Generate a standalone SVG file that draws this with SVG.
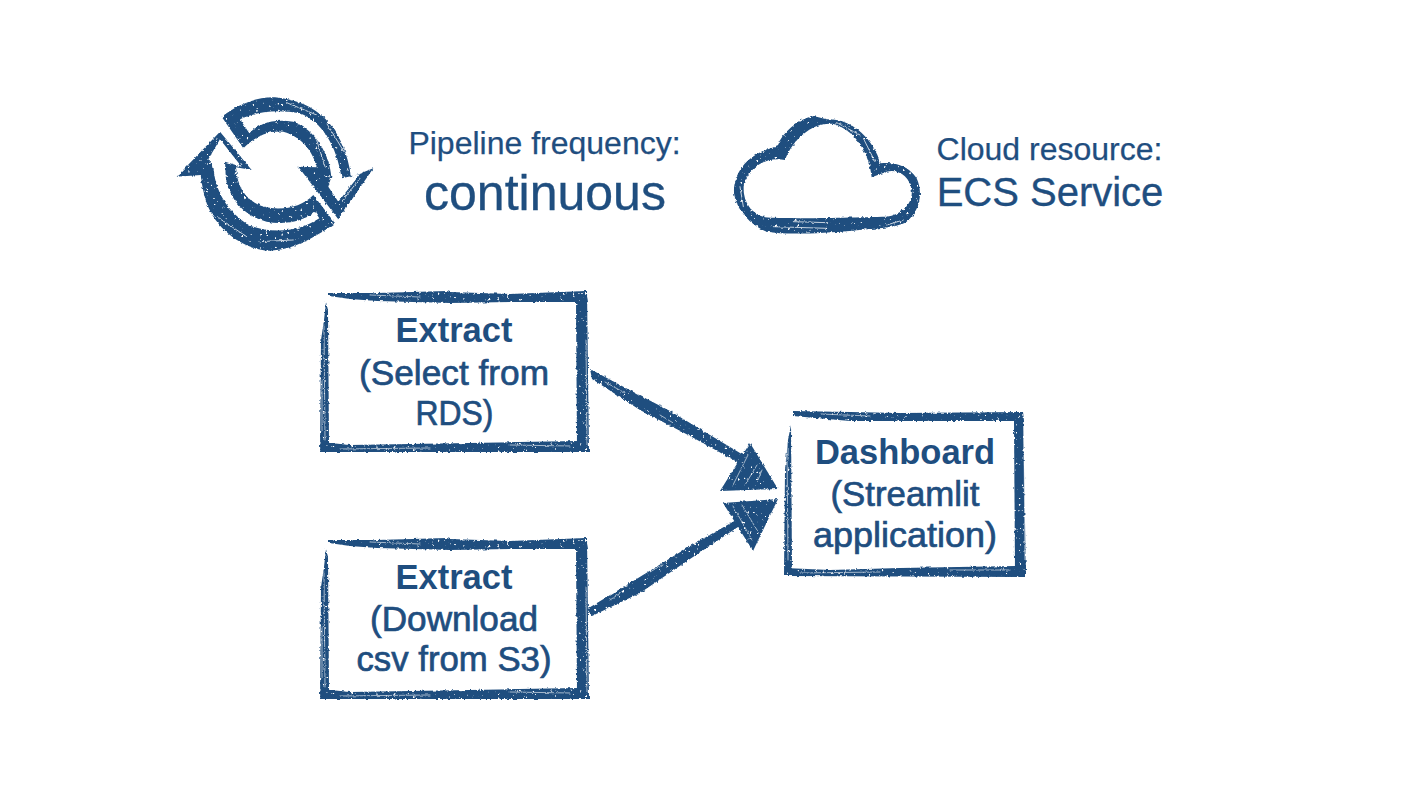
<svg xmlns="http://www.w3.org/2000/svg" width="1424" height="788" viewBox="0 0 1424 788">
<style>
text{font-family:"Liberation Sans",Arial,sans-serif;fill:#1f4e7f;text-anchor:middle}
.b{font-size:34.5px;font-weight:bold}
.m{font-size:35px;stroke:#1f4e7f;stroke-width:.7px}
.s{font-size:32px;stroke:#1f4e7f;stroke-width:.25px}
.l{stroke:#1f4e7f;stroke-width:.35px}
.ink{fill:#1f4e7f;stroke:none}
.sc{fill:none;stroke:#fff;stroke-linecap:round;stroke-width:.8;opacity:.75}
</style>
<defs>
<filter id="rough" x="-5%" y="-5%" width="110%" height="110%" color-interpolation-filters="sRGB">
<feTurbulence type="fractalNoise" baseFrequency=".32" numOctaves="3" seed="4" result="n"/>
<feDisplacementMap in="SourceGraphic" in2="n" scale="3" xChannelSelector="R" yChannelSelector="G" result="d"/>
<feColorMatrix in="n" type="matrix" values="0 0 0 0 0  0 0 0 0 0  0 0 0 0 0  0 0 0 -9 7.3" result="mask"/>
<feComposite in="d" in2="mask" operator="in"/>
<feGaussianBlur stdDeviation=".4"/>
</filter>
<g id="frame">
<path class="ink" d="M19 13L67 13L137 11L140 12L200 14L276 11L278 22L200 22L140 23L67 21L40 19L19 16Z"/>
<path class="ink" d="M266 20L277 11L279 172L267 172Z"/>
<path class="ink" d="M10 172L11 162L40 165L100 164L268 161L278 159L278 172Z"/>
<path class="ink" d="M10 172L11 60L14 40L16 22L18 30L19 163L18 172Z"/>
<path class="sc" d="M14 45L15 160M12 100L12 150M276 60L277 165M30 169L120 168M60 15L110 17M200 165L260 166"/>
</g>
</defs>
<rect width="1424" height="788" fill="#fff"/>

<g id="connectors" filter="url(#rough)">
<g id="connector-rds-dashboard">
<path class="ink" d="M590 369L622 386L670 411L745 456L741 464L690 436L640 410L592 379Z"/>
<path class="ink" d="M750 443L778 489L720 491Z"/>
<path class="sc" d="M733 485L748 455M745 485L757 465M762 470L758 480M605 382L625 393M660 415L675 424"/>
</g>
<g id="connector-s3-dashboard">
<path class="ink" d="M587 609L630 583L690 546L738 519L741 525L690 559L640 593L592 616Z"/>
<path class="ink" d="M723 503L778 499L753 551Z"/>
<path class="sc" d="M733 506L752 540M742 505L757 530M650 572L662 565M610 600L622 592"/>
</g>
</g>

<g id="node-cycle" filter="url(#rough)">
<g transform="translate(160 80) scale(.3333)">
<path class="ink" fill-rule="evenodd" d="M185 110C230 75 290 50 345 52C440 60 540 110 570 270L572 292L640 265L535 418L415 260L470 262C460 215 425 170 370 155C320 150 280 175 250 205ZM240 118C295 92 360 88 420 100C485 125 530 195 545 295L600 283L535 365L505 320L514 290C510 230 470 150 400 125C340 115 295 130 268 160Z"/>
<path class="ink" fill-rule="evenodd" d="M525 430C470 470 400 510 330 512C250 510 170 450 140 370C130 340 125 310 122 285L50 290L180 155L275 270L228 262C232 335 270 378 340 385C390 388 430 375 460 345ZM465 395C430 425 370 435 320 425C260 410 215 370 198 300L195 245L245 260L180 178L145 238L160 260C165 330 200 395 270 437C340 462 420 455 478 415Z"/>
<path class="sc" style="stroke-width:3" d="M380 68L470 105M500 130L555 220M545 365L600 295M170 410L260 470M300 485L400 480M470 180L495 260"/>
</g>
</g>

<g id="node-cloud" filter="url(#rough)">
<g transform="translate(720 100) scale(.3333)">
<path class="ink" fill-rule="evenodd" d="M170 140C190 95 230 60 280 48L320 58C400 55 460 120 482 190C520 185 565 195 590 235C610 280 600 330 560 365C530 385 450 385 400 392C300 400 200 405 140 395C90 375 50 330 42 280C40 220 80 160 170 140ZM195 180C150 170 95 190 72 250C65 300 90 340 135 352C200 358 400 352 500 350C545 345 580 310 575 270C570 230 535 205 500 215L455 232C450 170 410 90 340 72C280 65 220 115 195 180Z"/>
<path class="sc" style="stroke-width:3" d="M350 68L420 105M430 115L465 185M60 260L70 320M160 380L320 385M220 365L320 368M500 375L550 360"/>
</g>
</g>

<g id="label-frequency">
<text class="s" x="544.5" y="154">Pipeline frequency:</text>
<text class="l" x="545" y="210" font-size="50">continuous</text>
</g>
<g id="label-cloud">
<text class="s" x="1049.5" y="160">Cloud resource:</text>
<text class="l" x="1050" y="206" font-size="40">ECS Service</text>
</g>

<g id="node-extract-rds">
<use href="#frame" transform="translate(310 280)" filter="url(#rough)"/>
<text class="b" x="454" y="342">Extract</text>
<text class="m" x="454" y="385" textLength="190" lengthAdjust="spacingAndGlyphs">(Select from</text>
<text class="m" x="454.500" y="425" textLength="78" lengthAdjust="spacingAndGlyphs">RDS)</text>
</g>

<g id="node-extract-s3">
<use href="#frame" transform="translate(310 527)" filter="url(#rough)"/>
<text class="b" x="454" y="589">Extract</text>
<text class="m" x="454" y="631" textLength="168" lengthAdjust="spacingAndGlyphs">(Download</text>
<text class="m" x="454" y="671" textLength="195" lengthAdjust="spacingAndGlyphs">csv from S3)</text>
</g>

<g id="node-dashboard">
<g filter="url(#rough)">
<path class="ink" d="M793 411L850 412L900 413L1023 412L1024 421L900 421L850 421L793 416Z"/>
<path class="ink" d="M1014 421L1023 412L1026 576L1015 570Z"/>
<path class="ink" d="M785 576L785 568L830 570L900 568L1015 566L1026 565L1026 577Z"/>
<path class="ink" d="M784 576L785 470L788 440L791 425L792 568L791 576Z"/>
<path class="sc" d="M787 445L788 560M1024 440L1025 560M800 573L880 572M820 414L870 416M950 570L1010 570"/>
</g>
<text class="b" x="905" y="464">Dashboard</text>
<text class="m" x="905" y="506" textLength="149" lengthAdjust="spacingAndGlyphs">(Streamlit</text>
<text class="m" x="905" y="547" textLength="184" lengthAdjust="spacingAndGlyphs">application)</text>
</g>
</svg>
